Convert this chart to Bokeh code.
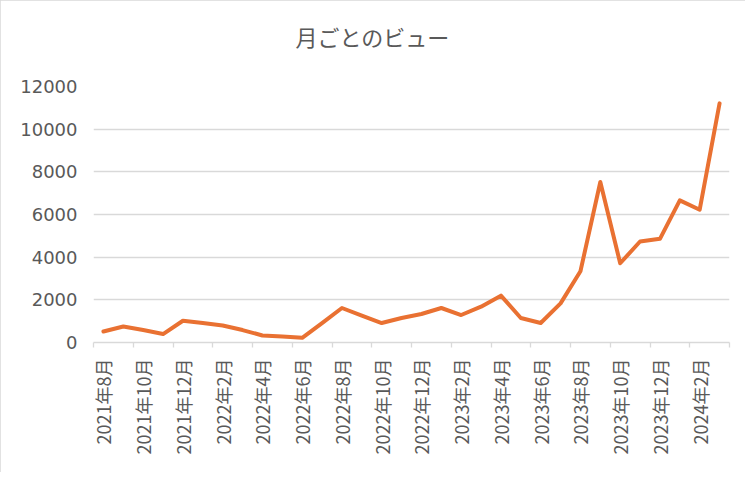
import math
from bokeh.plotting import figure
from bokeh.models import FixedTicker, Range1d, Title
from bokeh.embed import file_html
from bokeh.resources import INLINE

months = [
    "2021年8月", "2021年9月", "2021年10月", "2021年11月", "2021年12月",
    "2022年1月", "2022年2月", "2022年3月", "2022年4月", "2022年5月", "2022年6月",
    "2022年7月", "2022年8月", "2022年9月", "2022年10月", "2022年11月", "2022年12月",
    "2023年1月", "2023年2月", "2023年3月", "2023年4月", "2023年5月", "2023年6月",
    "2023年7月", "2023年8月", "2023年9月", "2023年10月", "2023年11月", "2023年12月",
    "2024年1月", "2024年2月", "2024年3月",
]
views = [
    517, 752, 583, 395, 1020,
    912, 800, 583, 329, 282, 221,
    912, 1617, 1255, 912, 1147, 1335,
    1617, 1288, 1678, 2196, 1147, 912,
    1834, 3338, 7522, 3714, 4734, 4861,
    6662, 6225, 11208,
]
y_ticks = [0, 2000, 4000, 6000, 8000, 10000, 12000]
title_text = "月ごとのビュー"

FONT = "Noto Sans CJK JP"
GREY = "#595959"
LINE_GREY = "#d9d9d9"
W, H = 745, 472

n = len(months)
x_idx = list(range(n))
label_idx = x_idx[::2]
boundaries = [i - 0.5 for i in label_idx] + [n - 0.5]

p = figure(width=W, height=H, output_backend="svg", toolbar_location=None,
           x_range=Range1d(-0.5, n - 0.5), y_range=Range1d(0, 12000))
p.min_border_left = 93
p.min_border_right = 16
p.min_border_top = 86
p.min_border_bottom = 130
p.outline_line_color = None
p.background_fill_color = "white"
p.border_fill_color = "white"
p.styles = {"outline": "1px solid #d9d9d9", "outline-offset": "-1px"}

# empty spacer panel between the frame and the title
spacer = Title(text=" ", text_font_size="1px", standoff=32)
p.add_layout(spacer, "above")
main_title = Title(text=title_text, align="left", offset=202, standoff=0,
                   text_font=FONT, text_font_size="22px",
                   text_font_style="normal", text_color=GREY)
p.add_layout(main_title, "above")

p.xgrid.visible = False
p.ygrid.ticker = FixedTicker(ticks=y_ticks)
p.ygrid.grid_line_color = LINE_GREY
p.ygrid.grid_line_width = 1.3

ya = p.yaxis[0]
ya.ticker = FixedTicker(ticks=y_ticks)
ya.axis_line_color = None
ya.major_tick_line_color = None
ya.minor_tick_line_color = None
ya.major_tick_out = 0
ya.major_tick_in = 0
ya.major_label_standoff = 16
ya.major_label_text_font = "DejaVu Sans"
ya.major_label_text_font_size = "18px"
ya.major_label_text_color = GREY

xa = p.xaxis[0]
xa.ticker = FixedTicker(ticks=label_idx, minor_ticks=boundaries)
xa.major_label_overrides = {i: months[i] for i in label_idx}
xa.major_label_orientation = math.pi / 2
xa.axis_line_color = LINE_GREY
xa.axis_line_width = 1.3
xa.major_tick_line_color = None
xa.major_tick_out = 0
xa.major_tick_in = 0
xa.minor_tick_line_color = LINE_GREY
xa.minor_tick_line_width = 1.3
xa.minor_tick_out = 5
xa.minor_tick_in = 0
xa.major_label_standoff = 11
xa.major_label_text_font = FONT
xa.major_label_text_font_size = "18px"
xa.major_label_text_color = GREY

p.line(x_idx, views, line_width=4, line_color="#E97132",
       line_join="round", line_cap="round")

open("out.html", "w").write(file_html(p, INLINE))
